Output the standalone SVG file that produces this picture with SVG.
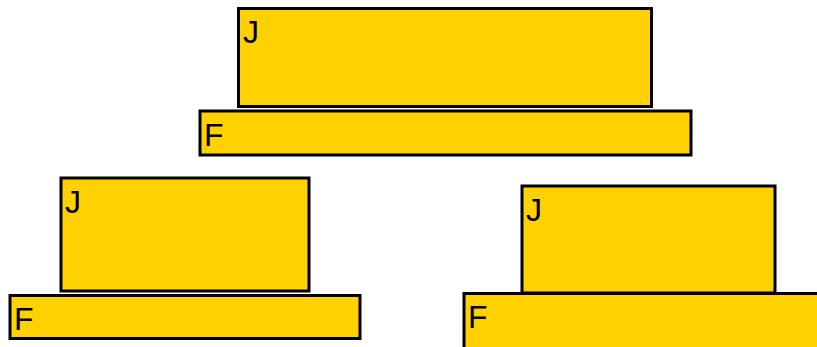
<svg xmlns="http://www.w3.org/2000/svg" width="817" height="347" viewBox="0 0 817 347">
<style>
.b{fill:#FFD100;stroke:#000;stroke-width:3}
.t{font-family:"Liberation Sans",Arial,sans-serif;fill:#000;font-size:32px}
</style>
<rect width="817" height="347" fill="#fff"/>
<g id="top-j"><rect class="b" x="238.5" y="8.5" width="413" height="98"/><text class="t" x="243" y="43">J</text></g>
<g id="top-f"><rect class="b" x="200" y="111" width="491" height="44"/><text class="t" x="204" y="146">F</text></g>
<g id="left-j"><rect class="b" x="61" y="178" width="248" height="113"/><text class="t" x="65" y="213">J</text></g>
<g id="left-f"><rect class="b" x="10" y="295.5" width="350" height="43"/><text class="t" x="14" y="330">F</text></g>
<g id="right-j"><rect class="b" x="522" y="186" width="253" height="107"/><text class="t" x="526" y="221">J</text></g>
<g id="right-f"><rect class="b" x="464" y="293.5" width="360" height="60"/><text class="t" x="468" y="328">F</text></g>
<g id="connectors"></g>
</svg>
